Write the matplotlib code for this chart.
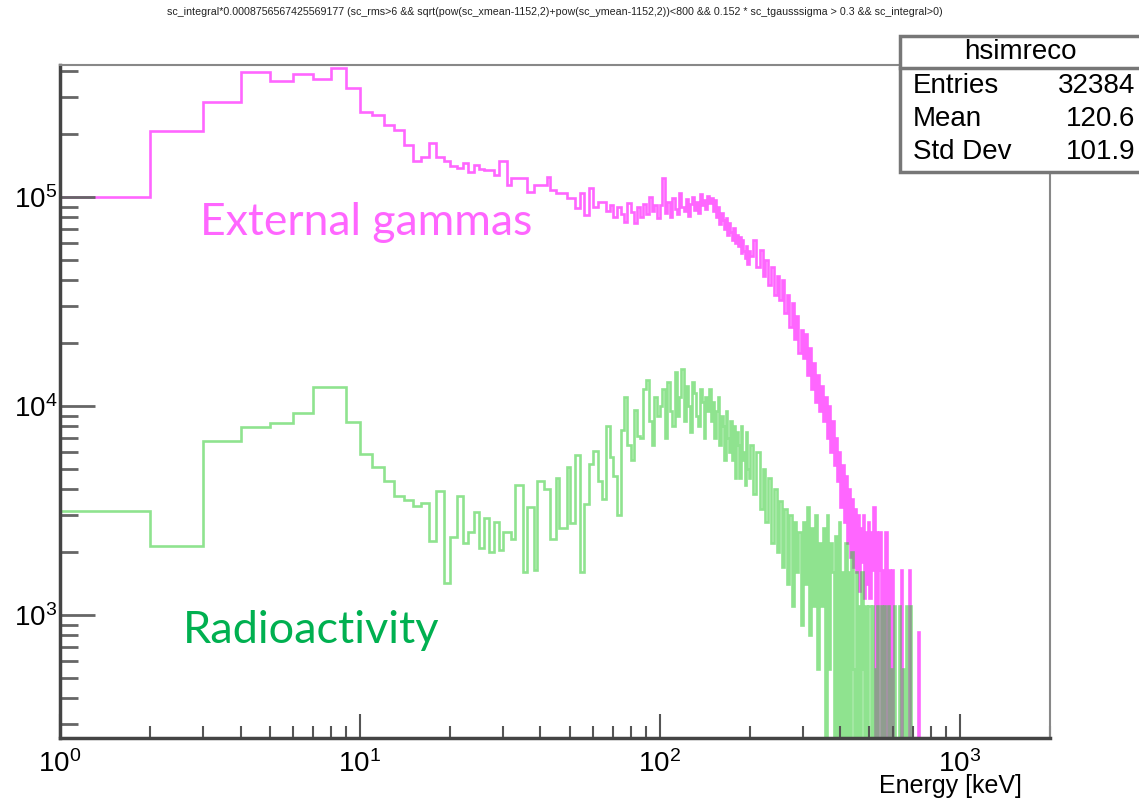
import numpy as np
import matplotlib
matplotlib.use('Agg')
import matplotlib.pyplot as plt
from matplotlib import font_manager
from matplotlib.patches import Rectangle
from matplotlib.lines import Line2D
from matplotlib.ticker import LogLocator, NullFormatter

# energy bins [keV]: 1 keV up to 50, 2 keV up to 200, 5 keV up to 750
edges = np.concatenate([np.arange(1, 50, 1), np.arange(50, 200, 2), np.arange(200, 751, 5)])

# external gammas, counts per bin in thousands
gam_fine = [100, 208, 285, 396, 360, 389, 365, 414, 333, 256,
            247, 220, 210, 178, 148, 156, 181, 156, 148, 140,
            138, 145, 132, 142, 136, 135, 134, 127, 148, 148,
            114, 123, 123, 123, 123, 106, 106, 114, 114, 114,
            114, 125, 108, 108, 104, 104, 104, 104, 99]
gam_mid = [99, 89, 104, 82, 110, 90, 95, 95, 86, 92, 80, 90, 83, 76, 94,
           85, 75, 90, 80, 93, 83, 100, 86, 92, 79,
           92, 123, 84, 95, 80, 99, 88, 83, 104, 90, 86, 98, 81, 93, 100,
           87, 95, 84, 103, 92, 97, 88, 101, 94, 99,
           86, 97, 80, 90, 74, 84, 78, 70, 79, 66, 75, 68, 62, 71, 60,
           66, 58, 64, 54, 62, 55, 51, 58, 48, 55]
gam_tail = [52, 62, 46, 56, 42, 50, 38, 46, 34, 42,
            32, 40, 28, 34, 24, 31, 21, 27, 18, 23,
            17, 22, 14, 19, 12, 16, 10.5, 14, 9.5, 12.5,
            8.5, 11, 7.0, 10, 6.0, 8.5, 5.2, 7.0, 4.4, 6.0,
            3.3, 5.2, 2.8, 4.6, 2.2, 4.0, 1.9, 3.6, 1.7, 3.2,
            1.6, 3.0, 1.3, 2.6, 1.8, 3.0, 1.2, 2.5, 1.4, 2.8,
            1.2, 2.5, 1.65, 3.3, 0, 2.5, 0, 1.65, 2.5, 0,
            1.65, 0, 0, 2.5, 0, 0, 1.65, 0, 0, 1.65,
            0, 0, 0, 0, 0, 0, 0, 1.65, 0, 0,
            0, 0, 0, 0, 0, 0, 1.65, 0, 0, 0,
            0, 0, 0, 0, 0, 0.83, 0, 0, 0, 0]

# radioactivity, counts per bin in thousands
rad_fine = [3.16, 2.15, 6.8, 7.9, 8.3, 9.3, 12.3, 12.3, 8.4, 5.9,
            5.1, 4.4, 3.7, 3.55, 3.33, 3.43, 2.27, 3.9, 1.43, 2.37,
            3.7, 2.2, 2.5, 3.1, 2.1, 2.9, 2.0, 2.8, 2.05, 2.5,
            2.5, 2.3, 4.2, 4.2, 1.6, 3.3, 3.3, 1.65, 4.4, 4.4,
            4.0, 4.0, 2.3, 2.3, 4.5, 2.6, 2.6, 2.6, 5.1]
rad_mid = [2.75, 5.8, 1.6, 3.4, 5.3, 6.1, 4.4, 3.6, 8.0, 5.7, 4.6, 3.0, 7.7,
           11, 6.5, 5.5, 9.6, 7.2, 7.0, 12, 13.3, 8.5, 6.5, 11, 9.0,
           10, 12, 7.0, 13, 9.5, 8.0, 14.5, 9.0, 11, 15, 8.5, 12.5, 10,
           7.5, 13, 11.5, 9.0, 8.0, 12, 10.5, 7.0, 11, 9.5, 12, 8.5,
           10.5, 7.0, 9.5, 11, 6.5, 9.0, 8.0, 5.5, 9.5, 7.0, 6.0, 8.5,
           5.5, 8.0, 4.5, 7.5, 6.5, 4.5, 8.0, 5.5, 6.0, 4.2, 7.5, 5.0, 4.5]
rad_tail = [6.5, 3.8, 6.0, 3.2, 5.0, 2.8, 4.5, 2.2, 4.0, 2.0,
            3.5, 1.7, 3.2, 1.4, 3.0, 1.1, 2.8, 1.6, 2.5, 0.9,
            2.8, 1.4, 3.3, 0.8, 2.6, 1.1, 3.0, 0.55, 2.2, 1.1,
            2.6, 0, 3.0, 0.55, 2.2, 1.6, 0, 2.4, 0, 2.8,
            0, 1.6, 0, 2.2, 0, 1.6, 0, 2.0, 0.55, 0,
            1.6, 0, 1.1, 0, 1.6, 0.55, 0, 1.1, 0, 1.1,
            1.1, 0, 1.1, 0, 0.55, 0, 1.1, 0, 0, 1.1,
            0, 0, 1.1, 0, 0, 1.1, 0, 0, 0.55, 0,
            0, 1.1, 0, 0, 0, 1.1, 0, 0, 0, 0.55,
            0, 0, 1.1, 0, 0, 0, 0, 1.1, 0, 0,
            0, 0, 0, 0, 0, 0, 0, 0, 0, 0]

stat_names = ['Entries', 'Mean', 'Std Dev']
stat_values = ['32384', '120.6', '101.9']
title = ('sc_integral*0.0008756567425569177 (sc_rms>6 && sqrt(pow(sc_xmean-1152,2)'
         '+pow(sc_ymean-1152,2))<800 && 0.152 * sc_tgausssigma > 0.3 && sc_integral>0)')

gam = np.array(gam_fine + gam_mid + gam_tail) * 1e3
rad = np.array(rad_fine + rad_mid + rad_tail) * 1e3
# empty bins drop below the axis on the log scale
gam = np.where(gam > 0, gam, 1.0)
rad = np.where(rad > 0, rad, 1.0)

names = {f.name for f in font_manager.fontManager.ttflist}
plt.rcParams['font.family'] = ['Liberation Sans', 'DejaVu Sans']
plt.rcParams['mathtext.default'] = 'regular'
narrow = 'Liberation Sans Narrow' if 'Liberation Sans Narrow' in names else 'Liberation Sans'
label_font = 'Lato' if 'Lato' in names else 'DejaVu Sans'

fig = plt.figure(figsize=(11.39, 7.98), dpi=100)
ax = fig.add_axes([60/1139, 1 - 738/798, 990/1139, 673/798])

ax.stairs(gam, edges, baseline=1.0, color=(1, 0, 1), alpha=0.6, lw=1.9)
ax.stairs(rad, edges, baseline=1.0, color=(0.2, 0.8, 0.2), alpha=0.55, lw=1.9)

ax.set_xscale('log')
ax.set_yscale('log')
ax.set_xlim(1, 2000)
ax.set_ylim(258, 4.28e5)

ax.xaxis.set_major_locator(LogLocator(base=10, numticks=10))
ax.xaxis.set_minor_locator(LogLocator(base=10, subs=np.arange(2, 10), numticks=20))
ax.yaxis.set_major_locator(LogLocator(base=10, numticks=10))
ax.yaxis.set_minor_locator(LogLocator(base=10, subs=np.arange(2, 10), numticks=20))
ax.xaxis.set_minor_formatter(NullFormatter())
ax.yaxis.set_minor_formatter(NullFormatter())

ax.tick_params(axis='x', which='major', direction='in', length=17, width=1.5,
               color='#555555', labelsize=20, pad=9, top=False)
ax.tick_params(axis='x', which='minor', direction='in', length=9, width=1.5,
               color='#555555', top=False)
ax.tick_params(axis='y', which='major', direction='in', length=25, width=2,
               color='#666666', labelsize=20, pad=2, right=False)
ax.tick_params(axis='y', which='minor', direction='in', length=13, width=2,
               color='#666666', right=False)

for s in ['left', 'bottom']:
    ax.spines[s].set_color('#444444')
    ax.spines[s].set_linewidth(2.5)
for s in ['top', 'right']:
    ax.spines[s].set_color('#888888')
    ax.spines[s].set_linewidth(1.5)

fig.text(1022/1139, 1 - 786/798, 'Energy [keV]', family=narrow,
         fontsize=22 if narrow != 'Liberation Sans' else 18, ha='right', va='center')
fig.text(555/1139, 1 - 12/798, title, fontsize=7.7, ha='center', va='center', color='#222222')

fig.text(200/1139, 1 - 235/798, 'External gammas', family=label_font, fontsize=32,
         color='#ff66ff', ha='left', va='baseline')
fig.text(183/1139, 1 - 643/798, 'Radioactivity', family=label_font, fontsize=32.5,
         color='#00b050', ha='left', va='baseline')

# stats box
bx0, by0, by1 = 900/1139, 1 - 172/798, 1 - 36/798
fig.add_artist(Rectangle((bx0, by0), 0.3, by1 - by0, transform=fig.transFigure,
                         facecolor='white', edgecolor='#777777', lw=2.5, zorder=5))
fig.add_artist(Line2D([bx0, 1.0], [1 - 68/798] * 2, transform=fig.transFigure,
                      color='#777777', lw=2.5, zorder=6))
fig.text(1020/1139, 1 - 52/798, 'hsimreco', fontsize=20, ha='center', va='center', zorder=7)
for i, (n, v) in enumerate(zip(stat_names, stat_values)):
    yy = 1 - (86 + 33*i)/798
    fig.text(913/1139, yy, n, fontsize=20, ha='left', va='center', zorder=7)
    fig.text(1135/1139, yy, v, fontsize=20, ha='right', va='center', zorder=7)

fig.savefig('out.png', dpi=100)
